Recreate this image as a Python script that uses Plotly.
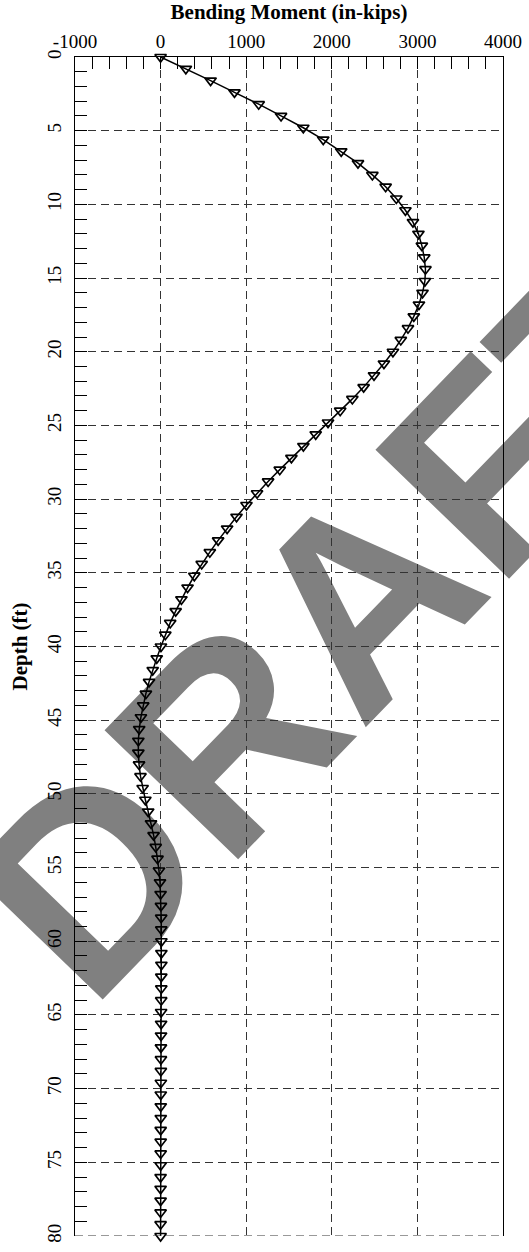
import plotly.graph_objects as go

depth_ft = [0.0, 0.8, 1.6, 2.4, 3.2, 4.0, 4.8, 5.6, 6.4, 7.2, 8.0, 8.8, 9.6, 10.4, 11.2, 12.0,
            12.8, 13.6, 14.4, 15.2, 16.0, 16.8, 17.6, 18.4, 19.2, 20.0, 20.8, 21.6, 22.4, 23.2,
            24.0, 24.8, 25.6, 26.4, 27.2, 28.0, 28.8, 29.6, 30.4, 31.2, 32.0, 32.8, 33.6, 34.4,
            35.2, 36.0, 36.8, 37.6, 38.4, 39.2, 40.0, 40.8, 41.6, 42.4, 43.2, 44.0, 44.8, 45.6,
            46.4, 47.2, 48.0, 48.8, 49.6, 50.4, 51.2, 52.0, 52.8, 53.6, 54.4, 55.2, 56.0, 56.8,
            57.6, 58.4, 59.2, 60.0, 60.8, 61.6, 62.4, 63.2, 64.0, 64.8, 65.6, 66.4, 67.2, 68.0,
            68.8, 69.6, 70.4, 71.2, 72.0, 72.8, 73.6, 74.4, 75.2, 76.0, 76.8, 77.6, 78.4, 79.2, 80.0]

moment_inkips = [0, 295, 584, 863, 1146, 1407, 1667, 1900, 2110, 2306, 2474, 2629, 2754, 2860,
                 2948, 3012, 3052, 3080, 3094, 3088, 3060, 3018, 2958, 2890, 2806, 2714, 2609,
                 2493, 2372, 2240, 2098, 1956, 1812, 1668, 1528, 1392, 1256, 1127, 1003, 887,
                 777, 672, 575, 480, 394, 315, 243, 176, 112, 55, 4, -45, -92, -135, -172, -203,
                 -230, -250, -260, -260, -252, -235, -210, -178, -145, -112, -82, -57, -36, -19,
                 -7, 0, 4, 7, 8, 9, 9, 9, 8, 8, 7, 6, 6, 5, 4, 4, 3, 3, 2, 2, 2, 1, 1, 1, 1,
                 0, 0, 0, 0, 0, 0]

x_range = [-1000, 4000]
y_range = [80, 0]
x_tick_vals = [-1000, 0, 1000, 2000, 3000, 4000]
x_tick_text = ["-1000", "0", "1000", "2000", "3000", "4000"]
y_tick_vals = [0, 5, 10, 15, 20, 25, 30, 35, 40, 45, 50, 55, 60, 65, 70, 75, 80]

x_title = "Bending Moment (in-kips)"
y_title = "Depth (ft)"
watermark = "DRAFT"

serif = "Liberation Serif"
grid_color = "#333333"
grid_dash = "8px,5px"

fig = go.Figure()
fig.add_trace(go.Scatter(
    x=moment_inkips, y=depth_ft, mode="lines+markers",
    line=dict(color="black", width=1.5),
    marker=dict(symbol="triangle-down-open", size=10, color="black", line=dict(width=1.7)),
    showlegend=False, cliponaxis=False,
))

# watermark, drawn underneath the grid and the data
fig.add_shape(
    type="rect", xref="paper", yref="paper",
    x0=0.575, x1=0.579, y0=0.537, y1=0.541,
    line=dict(width=0), fillcolor="rgba(0,0,0,0)", layer="below",
    label=dict(text=watermark, textangle=-46, textposition="middle center",
               font=dict(family="Liberation Sans", size=270, color="#808080", weight="bold")),
)

# dashed bottom edge of the frame (grid line at the deepest depth)
fig.add_shape(
    type="line", xref="paper", yref="y", x0=0, x1=1, y0=y_range[0], y1=y_range[0],
    line=dict(color=grid_color, width=1, dash=grid_dash), layer="above",
)

grid_style = dict(showgrid=True, gridcolor=grid_color, gridwidth=1, griddash=grid_dash)

fig.update_xaxes(
    side="top", range=x_range, tickvals=x_tick_vals, ticktext=x_tick_text,
    ticks="inside", ticklen=12, tickwidth=1, tickcolor="black",
    minor=dict(dtick=200, tick0=0, ticks="inside", ticklen=12, tickwidth=1,
               tickcolor="black", showgrid=False),
    showline=True, linecolor="black", linewidth=1.2, mirror=False, zeroline=False,
    tickfont=dict(family=serif, size=19, color="black"),
    ticklabelstandoff=0,
    title=dict(text=x_title, font=dict(family=serif, size=21, color="black", weight="bold"),
               standoff=11),
    **grid_style,
)
fig.update_yaxes(
    range=y_range, tickvals=y_tick_vals, tickangle=-90,
    ticks="inside", ticklen=12, tickwidth=1, tickcolor="black",
    minor=dict(dtick=1, tick0=0, ticks="inside", ticklen=12, tickwidth=1,
               tickcolor="black", showgrid=False),
    showline=True, linecolor="black", linewidth=1.2, mirror=True, zeroline=False,
    tickfont=dict(family=serif, size=19, color="black"),
    ticklabelstandoff=5,
    title=dict(text=y_title, font=dict(family=serif, size=21, color="black", weight="bold"),
               standoff=10),
    **grid_style,
)

fig.update_layout(
    width=529, height=1252, template="none",
    margin=dict(l=75, r=26, t=57, b=16, autoexpand=False),
    paper_bgcolor="white", plot_bgcolor="rgba(0,0,0,0)",
)

fig.write_html("out.html", config={"displayModeBar": False},
               post_script="document.body.style.margin='0';")
